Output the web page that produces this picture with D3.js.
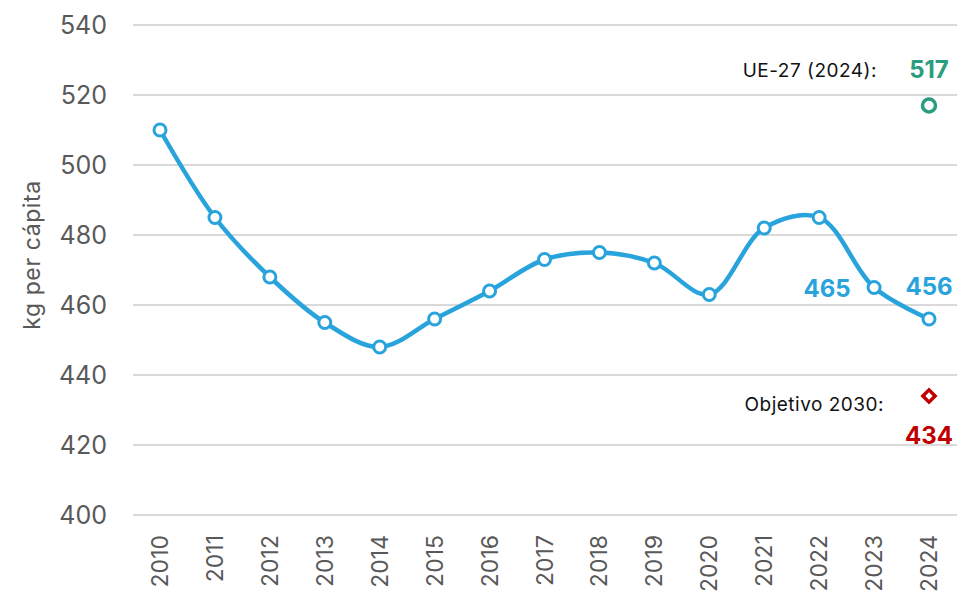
<!DOCTYPE html>
<html>
<head>
<meta charset="utf-8">
<style>
  body { margin: 0; background: #fff; }
  text { font-family: Inter, "Open Sans", sans-serif; }
</style>
</head>
<body>
<svg id="chart" width="957" height="597"></svg>
<script src="https://d3js.org/d3.v7.min.js"></script>
<script>
var years = [2010, 2011, 2012, 2013, 2014, 2015, 2016, 2017, 2018, 2019, 2020, 2021, 2022, 2023, 2024];
var values = [510, 485, 468, 455, 448, 456, 464, 473, 475, 472, 463, 482, 485, 465, 456];
var yTicks = [400, 420, 440, 460, 480, 500, 520, 540];
var labelledYears = [2023, 2024];
var euValue = 517, euLabel = "UE-27 (2024):";
var targetValue = 434, targetLabel = "Objetivo 2030:";

var blue = "#29a3dc", green = "#2a9d7f", red = "#c00000";

var svg = d3.select("#chart");

var x = d3.scalePoint().domain(years).range([160, 929]);
var y = d3.scaleLinear().domain([400, 540]).range([515, 25]);

// gridlines
svg.append("g")
  .selectAll("line")
  .data(yTicks)
  .enter().append("line")
  .attr("x1", 133).attr("x2", 957)
  .attr("y1", d => y(d)).attr("y2", d => y(d))
  .attr("stroke", "#d9d9d9")
  .attr("stroke-width", 2);

// y labels
svg.append("g")
  .selectAll("text")
  .data(yTicks)
  .enter().append("text")
  .attr("x", 107)
  .attr("y", d => y(d) + 9)
  .attr("text-anchor", "end")
  .attr("font-size", 25)
  .attr("fill", "#595959")
  .text(d => d);

svg.append("text")
  .attr("transform", "translate(40,255) rotate(-90)")
  .attr("text-anchor", "middle")
  .attr("font-size", 23)
  .attr("letter-spacing", 0.6)
  .attr("fill", "#595959")
  .text("kg per cápita");

// x labels
svg.append("g")
  .selectAll("text")
  .data(years)
  .enter().append("text")
  .attr("transform", d => "translate(" + (x(d) + 8) + ",535) rotate(-90)")
  .attr("text-anchor", "end")
  .attr("font-size", 23)
  .attr("fill", "#595959")
  .text(d => d);

// line
var line = d3.line()
  .x((d, i) => x(years[i]))
  .y(d => y(d))
  .curve(d3.curveCatmullRom.alpha(0.5));

svg.append("path")
  .datum(values)
  .attr("fill", "none")
  .attr("stroke", blue)
  .attr("stroke-width", 4.5)
  .attr("d", line);

svg.append("g")
  .selectAll("circle")
  .data(values)
  .enter().append("circle")
  .attr("cx", (d, i) => x(years[i]))
  .attr("cy", d => y(d))
  .attr("r", 6)
  .attr("fill", "#fff")
  .attr("stroke", blue)
  .attr("stroke-width", 3);

// value labels
svg.append("g")
  .selectAll("text")
  .data(labelledYears)
  .enter().append("text")
  .attr("x", d => x(d))
  .attr("y", d => y(values[years.indexOf(d)]) + (d === 2024 ? -24 : 9))
  .attr("dx", (d, i) => i === 0 ? -47 : 0)
  .attr("text-anchor", "middle")
  .attr("font-size", 24)
  .attr("font-weight", "bold")
  .attr("fill", blue)
  .text(d => values[years.indexOf(d)]);

// EU reference
var xLast = x(2024);
svg.append("circle")
  .attr("cx", xLast).attr("cy", y(euValue)).attr("r", 6.5)
  .attr("fill", "#fff").attr("stroke", green).attr("stroke-width", 3.5);
svg.append("text")
  .attr("x", xLast).attr("y", y(euValue) - 28)
  .attr("text-anchor", "middle").attr("font-size", 24).attr("font-weight", "bold")
  .attr("fill", green).text(euValue);
svg.append("text")
  .attr("x", 877).attr("y", y(euValue) - 29)
  .attr("text-anchor", "end").attr("font-size", 19).attr("letter-spacing", 0.5).attr("fill", "#111")
  .text(euLabel);

// target
svg.append("path")
  .attr("d", d3.symbol().type(d3.symbolSquare).size(75))
  .attr("transform", "translate(" + xLast + "," + y(targetValue) + ") rotate(45)")
  .attr("fill", "#fff").attr("stroke", red).attr("stroke-width", 3.5);
svg.append("text")
  .attr("x", xLast).attr("y", y(targetValue) + 48)
  .attr("text-anchor", "middle").attr("font-size", 24).attr("font-weight", "bold")
  .attr("fill", red).text(targetValue);
svg.append("text")
  .attr("x", 884).attr("y", y(targetValue) + 15)
  .attr("text-anchor", "end").attr("font-size", 19).attr("letter-spacing", 0.5).attr("fill", "#111")
  .text(targetLabel);
</script>
</body>
</html>
